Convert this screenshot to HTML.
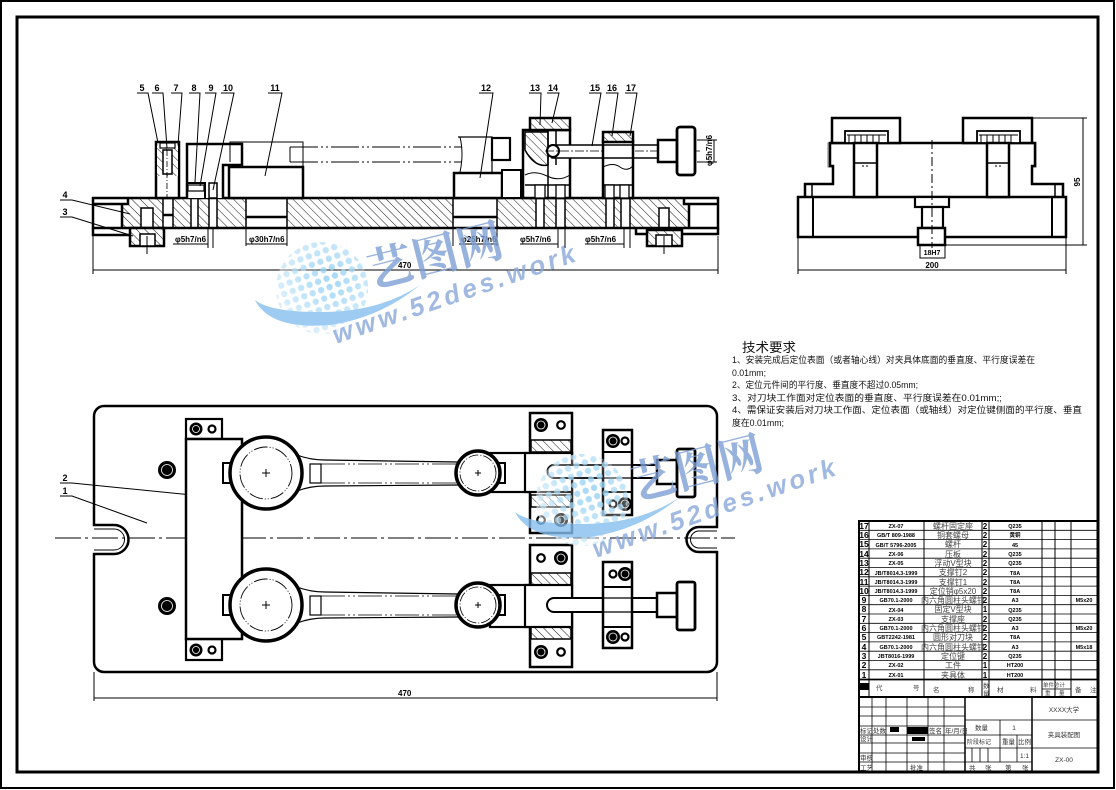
<!DOCTYPE html>
<html><head><meta charset="utf-8"><style>
html,body{margin:0;padding:0;background:#fff;}
svg{display:block;}
text{font-family:"Liberation Sans","Noto Sans CJK SC",sans-serif;}
.cn{font-family:"Liberation Serif","Noto Serif CJK SC",serif;}
</style></head><body>
<svg width="1116" height="790" viewBox="0 0 1116 790" xmlns="http://www.w3.org/2000/svg">
<defs>
<pattern id="h" patternUnits="userSpaceOnUse" width="6" height="6" patternTransform="rotate(-45)">
<rect width="6" height="6" fill="#fff"/><line x1="0" y1="0" x2="0" y2="6" stroke="#000" stroke-width="0.9"/>
</pattern>
<pattern id="dots" patternUnits="userSpaceOnUse" width="9" height="9" patternTransform="rotate(-20)">
<circle cx="4.5" cy="4.5" r="3.2" fill="#8fcff4"/>
</pattern>
<radialGradient id="gl" cx="0.6" cy="0.4" r="0.6">
<stop offset="0" stop-color="#ffffff" stop-opacity="0"/><stop offset="1" stop-color="#ffffff" stop-opacity="0.6"/>
</radialGradient>
</defs>
<rect width="1116" height="790" fill="#fff"/>
<!-- frames -->
<rect x="1" y="1" width="1113" height="787" fill="none" stroke="#000" stroke-width="2"/>
<rect x="17" y="17" width="1081" height="755" fill="none" stroke="#000" stroke-width="3"/>

<!-- ================= FRONT VIEW ================= -->
<g stroke="#000" fill="none">
<rect x="93" y="198" width="625" height="30" fill="url(#h)" stroke="none"/>
<g fill="#fff" stroke="#000" stroke-width="1.5">
<rect x="93" y="198" width="35" height="6" stroke="none"/><rect x="93" y="204" width="29" height="24" stroke="none"/>
<rect x="163" y="198" width="10" height="30"/>
<rect x="191" y="198" width="7" height="30"/>
<rect x="209" y="198" width="8" height="30"/>
<rect x="246" y="198" width="41" height="30"/>
<rect x="453" y="198" width="44" height="30"/>
<rect x="536" y="198" width="8" height="30"/>
<rect x="556" y="198" width="9" height="30"/>
<rect x="606" y="198" width="8" height="30"/>
<rect x="621" y="198" width="9" height="30"/>
<rect x="141" y="208" width="12" height="20"/>
<rect x="659" y="208" width="10" height="20"/>
<rect x="684" y="198" width="34" height="6" stroke="none"/><rect x="689" y="204" width="29" height="24" stroke="none"/>
</g>
<g stroke-width="2.5">
<rect x="93" y="198" width="625" height="30"/>
<path d="M93,204 H128 V198 M122,204 V228"/>
<path d="M718,204 H684 V198 M689,204 V228"/>
<path d="M246,217 H287 M453,217 H497 M163,215 H173"/>
<path d="M93,228 V235 H130 M636,228 V234 H718 V228"/>
</g>
<!-- keys -->
<rect x="130" y="228" width="34" height="18" fill="url(#h)" stroke-width="2.5"/>
<rect x="140" y="234" width="15" height="12" fill="#fff" stroke-width="1.5"/>
<rect x="647" y="230" width="35" height="16" fill="url(#h)" stroke-width="2.5"/>
<rect x="656" y="235" width="16" height="11" fill="#fff" stroke-width="1.5"/>
<path d="M147,236 V254 M664,236 V254" stroke-width="1"/>
<!-- post 5-7 -->
<rect x="156" y="142" width="23" height="56" fill="#fff" stroke-width="2.5"/>
<rect x="157" y="146" width="21" height="30" fill="url(#h)" stroke="none"/>
<rect x="163" y="150" width="9" height="24" fill="#fff" stroke-width="1.5"/>
<rect x="160" y="143" width="15" height="5" fill="#fff" stroke-width="1.2"/>
<path d="M167,150 V198" stroke-width="0.8" stroke-dasharray="6 2 1 2"/>
<!-- item 8 -->
<path d="M187,198 V144 H242 V165 H223 V198" stroke-width="2.5" fill="#fff"/>
<path d="M187,183 H205 V198" stroke-width="2"/>
<rect x="188" y="185" width="16" height="6" fill="#fff" stroke-width="1.2"/>
<rect x="209" y="183" width="8" height="15" fill="#fff" stroke-width="1.5"/>
<!-- item 11 -->
<path d="M230,162 V142 H303 V167" stroke-width="1"/>
<rect x="229" y="167" width="74" height="31" fill="#fff" stroke-width="2.5"/>
<path d="M290,147 H462 M290,162 H462 M290,147 V162" stroke-width="1" stroke-dasharray="28 3 2 3 2 3"/>
<path d="M460,137 Q464,154 460,172" stroke-width="1"/>
<!-- item 12 -->
<path d="M458,137 H492 V173" stroke-width="1.2"/>
<rect x="492" y="138" width="18" height="22" stroke-width="2.2" fill="#fff"/>
<rect x="454" y="173" width="48" height="25" fill="#fff" stroke-width="2.5"/>
<rect x="502" y="170" width="19" height="28" fill="#fff" stroke-width="2"/>
<!-- item 13/14 -->
<rect x="523" y="130" width="47" height="68" fill="#fff" stroke-width="2.5"/>
<rect x="530" y="118" width="40" height="12" fill="url(#h)" stroke-width="2.5"/>
<path d="M525,132 H548 V165 Q535,168 525,150 Z" fill="url(#h)" stroke-width="1.5"/>
<path d="M548,130 V198 M556,130 V165" stroke-width="1.5"/>
<path d="M525,175 Q535,170 547,176 T570,175" stroke-width="1"/>
<path d="M525,185 H570" stroke-width="1.5"/>
<rect x="535" y="185" width="10" height="13" fill="#fff" stroke-width="1.3"/>
<rect x="556" y="185" width="9" height="13" fill="#fff" stroke-width="1.3"/>
<!-- rod 15 -->
<rect x="552" y="145" width="106" height="13" fill="#fff" stroke-width="1.5"/>
<circle cx="553" cy="151" r="6" fill="#fff" stroke-width="2"/>
<path d="M545,151 H700" stroke-width="0.8" stroke-dasharray="9 2 2 2"/>
<!-- block 16/17 -->
<rect x="603" y="141" width="30" height="57" fill="#fff" stroke-width="2.5"/>
<rect x="603" y="132" width="30" height="10" fill="url(#h)" stroke-width="2.5"/>
<path d="M603,145 H633 M603,158 H633" stroke-width="1.5"/>
<path d="M603,167 Q613,162 620,167 T633,166" stroke-width="1"/>
<path d="M603,185 H633" stroke-width="1.5"/>
<rect x="605" y="185" width="9" height="13" fill="#fff" stroke-width="1.3"/>
<rect x="620" y="185" width="9" height="13" fill="#fff" stroke-width="1.3"/>
<!-- knob -->
<rect x="658" y="140" width="19" height="22" fill="#fff" stroke-width="2.5"/>
<rect x="677" y="127" width="18" height="48" rx="3" fill="#fff" stroke-width="2.8"/>
<!-- dims front -->
<g stroke-width="1">
<path d="M93,236 V274 M718,236 V274 M93,270 H718"/>
<path d="M714,140 V162 M697,140 H717 M697,162 H717"/>
<path d="M173,244 H208 M208,228 V248 M213,228 V248 M246,228 V246 M287,228 V246 M246,244 H287 M453,228 V246 M497,228 V246 M459,244 H497 M520,244 H558 M558,228 V248 M565,228 V248 M585,244 H624 M624,228 V248 M630,228 V248"/>
</g>
</g>
<g font-size="8" font-weight="bold" fill="#000">
<text x="175" y="242">φ5h7/n6</text>
<text x="249" y="242">φ30h7/n6</text>
<text x="461" y="242">φ25h7/n6</text>
<text x="520" y="242">φ5h7/n6</text>
<text x="585" y="242">φ5h7/n6</text>
<text x="398" y="268">470</text>
<text transform="translate(712,166) rotate(-90)">φ5h7/n6</text>
</g>
<!-- leaders & labels front -->
<g stroke="#000" stroke-width="1" fill="none">
<path d="M137,93 H148 L158,143"/>
<path d="M152,93 H163 L167,148"/>
<path d="M171,93 H182 L178,145"/>
<path d="M189,93 H200 L195,182"/>
<path d="M205,93 H216 L200,186"/>
<path d="M221,93 H234 L213,190"/>
<path d="M268,93 H282 L265,176"/>
<path d="M479,93 H493 L480,178"/>
<path d="M529,93 H541 L540,125"/>
<path d="M547,93 H559 L552,123"/>
<path d="M589,93 H601 L592,146"/>
<path d="M606,93 H618 L612,136"/>
<path d="M625,93 H637 L630,136"/>
<path d="M60,200 H72 L130,214"/>
<path d="M60,217 H72 L133,236"/>
<path d="M60,483 H72 L242,500"/>
<path d="M60,496 H72 L147,523"/>
</g>
<g font-size="9" font-weight="bold" fill="#000" text-anchor="middle">
<text x="142" y="91">5</text><text x="157" y="91">6</text><text x="176" y="91">7</text>
<text x="194" y="91">8</text><text x="211" y="91">9</text><text x="228" y="91">10</text>
<text x="275" y="91">11</text><text x="486" y="91">12</text><text x="535" y="91">13</text>
<text x="553" y="91">14</text><text x="595" y="91">15</text><text x="612" y="91">16</text>
<text x="631" y="91">17</text>
<text x="65" y="198">4</text><text x="65" y="215">3</text>
<text x="65" y="481">2</text><text x="65" y="494">1</text>
</g>

<!-- ================= SIDE VIEW ================= -->
<g stroke="#000" fill="none">
<path d="M828,143 H902 V167 H828 Z M962,143 H1036 V167 H962 Z" stroke="#777" stroke-width="1"/>
<path d="M848,167 V172 H888 V167 M980,167 V172 H1020 V167" stroke="#777" stroke-width="1"/>
<path d="M805,197 V184 H833 V166 H830 V143 H1035 V166 H1032 V184 H1063 V197" stroke-width="2.5" fill="#fff"/>
<path d="M812,184 V197 M1055,184 V197" stroke-width="1.5"/>
<rect x="798" y="197" width="268" height="40" fill="#fff" stroke-width="2.5"/>
<path d="M813,197 V237 M1052,197 V237" stroke-width="2"/>
<rect x="832" y="118" width="68" height="25" fill="#fff" stroke-width="2.5"/>
<rect x="963" y="118" width="69" height="25" fill="#fff" stroke-width="2.5"/>
<rect x="845" y="131" width="43" height="12" fill="#fff" stroke-width="1.8"/>
<rect x="977" y="131" width="43" height="12" fill="#fff" stroke-width="1.8"/>
<path d="M847,135 H886 M849,135 V143 M855,135 V143 M861,135 V143 M867,135 V143 M873,135 V143 M879,135 V143 M979,135 H1018 M981,135 V143 M987,135 V143 M993,135 V143 M999,135 V143 M1005,135 V143 M1011,135 V143" stroke-width="1"/>
<rect x="854" y="143" width="23" height="54" fill="#fff" stroke-width="2.5"/>
<rect x="987" y="143" width="22" height="54" fill="#fff" stroke-width="2.5"/>
<path d="M854,163 H877 M987,163 H1009" stroke-width="1.5"/>
<rect x="915" y="197" width="34" height="10" fill="#fff" stroke-width="2.2"/>
<rect x="922" y="207" width="21" height="21" fill="#fff" stroke-width="2.2"/>
<rect x="918" y="228" width="27" height="17" fill="#fff" stroke-width="2.5"/>
<path d="M932,140 V248" stroke-width="1" stroke-dasharray="9 3 2 3"/>
<path d="M862,166 H870 M995,166 H1003" stroke-width="1" stroke-dasharray="2 2"/>
<g stroke-width="1">
<path d="M1032,118 H1087 M945,245 H1087 M1083,118 V245"/>
<rect x="920" y="245" width="25" height="13"/>
<path d="M798,237 V274 M1066,237 V274 M798,270 H1066"/>
</g>
</g>
<g font-size="8" font-weight="bold" fill="#000" text-anchor="middle">
<text x="932" y="255" font-size="7">18H7</text>
<text x="932" y="268">200</text>
<text transform="translate(1080,182) rotate(-90)">95</text>
</g>

<!-- ================= TOP VIEW ================= -->
<g stroke="#000" fill="none">
<path d="M104,406 H707 A10,10 0 0 1 717,416 V527 H699 A12.5,12.5 0 0 0 699,552 H717 V662 A10,10 0 0 1 707,672 H104 A10,10 0 0 1 94,662 V554 H114 A14.5,14.5 0 0 0 114,525 H94 V416 A10,10 0 0 1 104,406 Z" stroke-width="2.5"/>
<path d="M94,529 H114 A10.5,10.5 0 0 1 114,550 H94 M717,531 H699 A8.5,8.5 0 0 0 699,548 H717" stroke-width="1"/>
<path d="M55,538 H735" stroke-width="1" stroke-dasharray="26 4 3 4"/>
<!-- left support -->
<rect x="186" y="419" width="36" height="20" fill="#fff" stroke-width="2.2"/>
<rect x="186" y="639" width="36" height="21" fill="#fff" stroke-width="2.2"/>
<rect x="186" y="439" width="56" height="200" fill="#fff" stroke-width="2.5"/>
<!-- rods -->
<g stroke-width="1.2">
<path d="M297,455 Q310,460 325,460 L458,462 M297,491 Q310,486 325,486 L458,485"/>
<path d="M297,587 Q310,592 325,592 L458,594 M297,623 Q310,618 325,618 L458,617"/>
<rect x="310" y="464" width="11" height="19"/>
<rect x="310" y="596" width="11" height="19"/>
</g>
<path d="M321,464 H458 M321,483 H458 M321,596 H458 M321,615 H458" stroke-width="0.8" stroke-dasharray="24 3 2 3 2 3"/>
<!-- big circles -->
<rect x="223" y="463" width="9" height="20" fill="#fff" stroke-width="2"/>
<rect x="223" y="595" width="9" height="20" fill="#fff" stroke-width="2"/>
<circle cx="266" cy="473" r="36" fill="#fff" stroke-width="3.5"/>
<circle cx="266" cy="605" r="36" fill="#fff" stroke-width="3.5"/>
<circle cx="266" cy="473" r="26" stroke-width="0.9" stroke-dasharray="14 2 1 2 1 2"/>
<circle cx="266" cy="605" r="26" stroke-width="0.9" stroke-dasharray="14 2 1 2 1 2"/>
<path d="M262,473 H270 M266,469 V477 M262,605 H270 M266,601 V609" stroke-width="1"/>
<!-- connector blocks to clamps -->
<rect x="490" y="453" width="40" height="39" fill="#fff" stroke-width="2.2"/>
<rect x="490" y="585" width="40" height="42" fill="#fff" stroke-width="2.2"/>
<rect x="498" y="463" width="7" height="20" fill="#fff" stroke-width="2"/>
<rect x="498" y="595" width="7" height="20" fill="#fff" stroke-width="2"/>
<circle cx="478" cy="473" r="22" fill="#fff" stroke-width="3.5"/>
<circle cx="478" cy="605" r="22" fill="#fff" stroke-width="3.5"/>
<circle cx="478" cy="473" r="18" stroke-width="0.8" stroke-dasharray="10 2 1 2"/>
<circle cx="478" cy="605" r="18" stroke-width="0.8" stroke-dasharray="10 2 1 2"/>
<path d="M475,473 H481 M478,470 V476 M475,605 H481 M478,602 V608" stroke-width="1"/>
<!-- clamps 13 (top) -->
<rect x="530" y="413" width="42" height="120" fill="#fff" stroke-width="2.5"/>
<rect x="531" y="440" width="40" height="12" fill="url(#h)" stroke-width="1.5"/>
<rect x="531" y="495" width="40" height="12" fill="url(#h)" stroke-width="1.5"/>
<rect x="525" y="453" width="47" height="39" fill="#fff" stroke-width="2.2"/>
<!-- clamps 13 (bottom) -->
<rect x="530" y="545" width="42" height="122" fill="#fff" stroke-width="2.5"/>
<rect x="531" y="573" width="40" height="12" fill="url(#h)" stroke-width="1.5"/>
<rect x="531" y="627" width="40" height="12" fill="url(#h)" stroke-width="1.5"/>
<rect x="525" y="585" width="47" height="42" fill="#fff" stroke-width="2.2"/>
<!-- rods 15 -->
<path d="M554,465 H658 V478 H554 A6.5,6.5 0 0 1 554,465 Z" fill="#fff" stroke-width="2"/>
<path d="M554,598 H658 V612 H554 A7,7 0 0 1 554,598 Z" fill="#fff" stroke-width="2"/>
<!-- blocks 17 -->
<rect x="603" y="430" width="29" height="85" fill="#fff" stroke-width="2.5"/>
<path d="M603,452 H632 M603,492 H632" stroke-width="2"/>
<rect x="603" y="562" width="29" height="86" fill="#fff" stroke-width="2.5"/>
<path d="M603,587 H632 M603,627 H632" stroke-width="2"/>
<path d="M603,465 H632 M603,478 H632 M603,598 H632 M603,612 H632" stroke-width="1.2"/>
<!-- knobs -->
<rect x="657" y="460" width="20" height="24" fill="#fff" stroke-width="2.5"/>
<rect x="677" y="449" width="18" height="48" rx="2" fill="#fff" stroke-width="2.8"/>
<rect x="657" y="593" width="20" height="24" fill="#fff" stroke-width="2.5"/>
<rect x="677" y="582" width="18" height="48" rx="2" fill="#fff" stroke-width="2.8"/>
<!-- dims -->
<path d="M94,672 V701 M717,672 V701 M94,698 H717" stroke-width="1"/>
</g>
<!-- bolt heads -->
<g>
<g fill="#000"><circle cx="167" cy="470" r="9"/><circle cx="167" cy="606" r="9"/>
<circle cx="196" cy="429" r="6.5"/><circle cx="196" cy="650" r="6.5"/>
<circle cx="541" cy="425" r="7"/><circle cx="561" cy="520" r="7"/>
<circle cx="561" cy="558" r="7"/><circle cx="541" cy="652" r="7"/>
<circle cx="613" cy="441" r="7"/><circle cx="625" cy="504" r="7"/>
<circle cx="625" cy="574" r="7"/><circle cx="613" cy="637" r="7"/></g>
<g fill="none" stroke="#fff" stroke-width="0.8"><circle cx="167" cy="470" r="5.5"/><circle cx="167" cy="606" r="5.5"/>
<circle cx="196" cy="429" r="3.5"/><circle cx="196" cy="650" r="3.5"/>
<circle cx="541" cy="425" r="4"/><circle cx="561" cy="520" r="4"/>
<circle cx="561" cy="558" r="4"/><circle cx="541" cy="652" r="4"/>
<circle cx="613" cy="441" r="4"/><circle cx="625" cy="504" r="4"/>
<circle cx="625" cy="574" r="4"/><circle cx="613" cy="637" r="4"/></g>
<g fill="#fff" stroke="#000" stroke-width="2.2"><circle cx="212" cy="429" r="3.5"/><circle cx="212" cy="650" r="3.5"/>
<circle cx="561" cy="425" r="3.8"/><circle cx="541" cy="520" r="3.8"/>
<circle cx="541" cy="558" r="3.8"/><circle cx="561" cy="652" r="3.8"/>
<circle cx="625" cy="441" r="3.5"/><circle cx="613" cy="504" r="3.5"/>
<circle cx="613" cy="574" r="3.5"/><circle cx="625" cy="637" r="3.5"/></g>
</g>
<text x="398" y="696" font-size="8" font-weight="bold" fill="#000">470</text>

<!-- ================= TECH REQUIREMENTS ================= -->
<g class="cn" fill="#111">
<text x="742" y="352" font-size="13" textLength="54" lengthAdjust="spacingAndGlyphs">技术要求</text>
<g font-size="9">
<text x="732" y="363" textLength="303" lengthAdjust="spacingAndGlyphs">1、安装完成后定位表面（或者轴心线）对夹具体底面的垂直度、平行度误差在</text>
<text x="732" y="376" textLength="34" lengthAdjust="spacingAndGlyphs">0.01mm;</text>
<text x="732" y="388" textLength="186" lengthAdjust="spacingAndGlyphs">2、定位元件间的平行度、垂直度不超过0.05mm;</text>
<text x="732" y="401" textLength="270" lengthAdjust="spacingAndGlyphs">3、对刀块工作面对定位表面的垂直度、平行度误差在0.01mm;;</text>
<text x="732" y="413" textLength="350" lengthAdjust="spacingAndGlyphs">4、需保证安装后对刀块工作面、定位表面（或轴线）对定位键侧面的平行度、垂直</text>
<text x="732" y="426" textLength="52" lengthAdjust="spacingAndGlyphs">度在0.01mm;</text>
</g>
</g>

<!-- ================= PARTS LIST ================= -->
<g stroke="#000" fill="none">
<rect x="859" y="521" width="239" height="176" stroke-width="2"/>
<path d="M869,521 V697 M924,521 V697 M982,521 V697 M989,521 V697 M1042,521 V697 M1055,521 V697 M1071,521 V697" stroke-width="1"/>
<path d="M859,530.3 H1098 M859,539.6 H1098 M859,548.9 H1098 M859,558.2 H1098 M859,567.5 H1098 M859,576.8 H1098 M859,586.1 H1098 M859,595.4 H1098 M859,604.7 H1098 M859,614 H1098 M859,623.3 H1098 M859,632.6 H1098 M859,641.9 H1098 M859,651.2 H1098 M859,660.5 H1098 M859,669.8 H1098" stroke-width="0.8"/>
<path d="M859,679.5 H1098" stroke-width="1.8"/>
<path d="M1042,689 H1071 M1055,680 V697" stroke-width="0.8"/>
<rect x="860" y="683" width="9" height="7" fill="#000" stroke="none"/>
</g>
<g font-size="7" fill="#000">
<g font-weight="bold" font-size="8.5" text-anchor="middle">
<text x="864" y="529">17</text><text x="864" y="538">16</text><text x="864" y="547">15</text><text x="864" y="557">14</text>
<text x="864" y="566">13</text><text x="864" y="575">12</text><text x="864" y="585">11</text><text x="864" y="594">10</text>
<text x="864" y="603">9</text><text x="864" y="612">8</text><text x="864" y="622">7</text><text x="864" y="631">6</text>
<text x="864" y="640">5</text><text x="864" y="650">4</text><text x="864" y="659">3</text><text x="864" y="668">2</text>
<text x="864" y="678">1</text>
</g>
<g font-weight="bold" font-size="5.5" text-anchor="middle">
<text x="896" y="528">ZX-07</text><text x="896" y="537">GB/T 809-1988</text><text x="896" y="547">GB/T 5796-2005</text>
<text x="896" y="556">ZX-06</text><text x="896" y="565">ZX-05</text><text x="896" y="575">JB/T8014.3-1999</text>
<text x="896" y="584">JB/T8014.3-1999</text><text x="896" y="593">JB/T8014.3-1999</text><text x="896" y="602">GB70.1-2000</text>
<text x="896" y="612">ZX-04</text><text x="896" y="621">ZX-03</text><text x="896" y="630">GB70.1-2000</text>
<text x="896" y="639">GBT2242-1981</text><text x="896" y="649">GB70.1-2000</text><text x="896" y="658">JBT8016-1999</text>
<text x="896" y="667">ZX-02</text><text x="896" y="677">ZX-01</text>
<text x="1015" y="528">Q235</text><text x="1015" y="537">黄铜</text><text x="1015" y="547">45</text>
<text x="1015" y="556">Q235</text><text x="1015" y="565">Q235</text><text x="1015" y="575">T8A</text>
<text x="1015" y="584">T8A</text><text x="1015" y="593">T8A</text><text x="1015" y="602">A3</text>
<text x="1015" y="612">Q235</text><text x="1015" y="621">Q235</text><text x="1015" y="630">A3</text>
<text x="1015" y="639">T8A</text><text x="1015" y="649">A3</text><text x="1015" y="658">Q235</text>
<text x="1015" y="667">HT200</text><text x="1015" y="677">HT200</text>
<text x="1084" y="602">M5x20</text><text x="1084" y="630">M5x20</text><text x="1084" y="649">M5x18</text>
</g>
<g font-weight="bold" font-size="8" text-anchor="middle">
<text x="985" y="529">2</text><text x="985" y="538">2</text><text x="985" y="547">2</text><text x="985" y="557">2</text>
<text x="985" y="566">2</text><text x="985" y="575">2</text><text x="985" y="585">2</text><text x="985" y="594">2</text>
<text x="985" y="603">2</text><text x="985" y="612">1</text><text x="985" y="622">2</text><text x="985" y="631">2</text>
<text x="985" y="640">2</text><text x="985" y="650">2</text><text x="985" y="659">2</text><text x="985" y="668">1</text>
<text x="985" y="678">1</text>
</g>
<g class="cn" font-size="8" fill="#444" text-anchor="middle">
<text x="953" y="529">螺杆固定座</text><text x="953" y="538">铜套螺母</text><text x="953" y="547">螺杆</text>
<text x="953" y="557">压板</text><text x="953" y="566">浮动V型块</text><text x="953" y="575">支撑钉2</text>
<text x="953" y="585">支撑钉1</text><text x="953" y="594">定位销φ5x20</text><text x="953" y="603">内六角圆柱头螺钉</text>
<text x="953" y="612">固定V型块</text><text x="953" y="622">支撑座</text><text x="953" y="631">内六角圆柱头螺钉</text>
<text x="953" y="640">圆形对刀块</text><text x="953" y="650">内六角圆柱头螺钉</text><text x="953" y="659">定位键</text>
<text x="953" y="668">工件</text><text x="953" y="678">夹具体</text>
</g>
<g class="cn" font-size="6.5" fill="#444">
<text x="876" y="690">代</text><text x="913" y="690">号</text>
<text x="933" y="692">名</text><text x="968" y="692">称</text>
<text x="983" y="688">数</text><text x="983" y="696">量</text>
<text x="997" y="692">材</text><text x="1030" y="692">料</text>
<text x="1043" y="687" font-size="5.5">单件总计</text>
<text x="1045" y="695" font-size="5.5">重</text><text x="1059" y="695" font-size="5.5">量</text>
<text x="1075" y="692">备</text><text x="1090" y="692">注</text>
</g>
</g>

<!-- ================= TITLE BLOCK ================= -->
<g stroke="#000" fill="none">
<rect x="859" y="697" width="239" height="75" stroke-width="2"/>
<path d="M965,697 V772 M1032,697 V772" stroke-width="1.5"/>
<path d="M872,697 V772 M886,697 V772 M907,697 V772 M928,697 V772 M944,697 V772" stroke-width="0.8"/>
<path d="M859,707 H965 M859,716 H965 M859,726 H965 M859,735 H965 M859,743 H965 M859,753 H965 M859,762 H965" stroke-width="0.8"/>
<path d="M965,720 H1098 M1032,748 H1098 M965,735 H1032 M965,748 H1032 M965,762 H1032" stroke-width="0.8"/>
<path d="M1000,720 V762 M1017,735 V762 M972,748 V762 M980,748 V762 M988,748 V762" stroke-width="0.8"/>
<rect x="890" y="727" width="9" height="5" fill="#000" stroke="none"/>
<rect x="907" y="727" width="21" height="7" fill="#000" stroke="none"/>
<rect x="912" y="737" width="13" height="4" fill="#000" stroke="none"/>
</g>
<g class="cn" font-size="6.5" fill="#333">
<text x="860" y="733">标记</text><text x="873" y="733">处数</text><text x="929" y="733">签名</text><text x="945" y="733">年/月/日</text>
<text x="860" y="741">设计</text>
<text x="860" y="760">审核</text><text x="860" y="770">工艺</text><text x="910" y="770">批准</text>
<text x="975" y="730">数量</text><text x="1014" y="730" text-anchor="middle">1</text>
<text x="967" y="744" font-size="6">阶段标记</text><text x="1002" y="744">重量</text><text x="1018" y="744">比例</text>
<text x="1020" y="758">1:1</text>
<text x="969" y="770">共</text><text x="985" y="770">张</text><text x="1005" y="770">第</text><text x="1022" y="770">张</text>
<text x="1064" y="712" text-anchor="middle">XXXX大学</text>
<text x="1064" y="737" text-anchor="middle">夹具装配图</text>
<text x="1064" y="762" text-anchor="middle">ZX-00</text>
</g>

<!-- ================= WATERMARKS ================= -->
<g opacity="0.8">
<circle cx="322" cy="288" r="46" fill="url(#dots)"/>
<circle cx="322" cy="288" r="46" fill="url(#gl)"/>
<path d="M255,300 Q270,330 330,325 Q380,318 420,285 Q380,312 320,312 Q270,312 255,300 Z" fill="#86bfee"/>
<g transform="translate(372,288) rotate(-14)"><text font-size="46" font-weight="bold" fill="#7f9fd6" class="cn" textLength="138" lengthAdjust="spacingAndGlyphs">艺图网</text></g>
<g transform="translate(336,344) rotate(-19)"><text font-size="26" font-weight="bold" font-style="italic" fill="#8aa8da" textLength="255" lengthAdjust="spacing">www.52des.work</text></g>
</g>
<g opacity="0.8">
<circle cx="582" cy="500" r="46" fill="url(#dots)"/>
<circle cx="582" cy="500" r="46" fill="url(#gl)"/>
<path d="M515,512 Q530,542 590,537 Q640,530 680,497 Q640,524 580,524 Q530,524 515,512 Z" fill="#86bfee"/>
<g transform="translate(636,500) rotate(-14)"><text font-size="46" font-weight="bold" fill="#7f9fd6" class="cn" textLength="134" lengthAdjust="spacingAndGlyphs">艺图网</text></g>
<g transform="translate(596,558) rotate(-19)"><text font-size="26" font-weight="bold" font-style="italic" fill="#8aa8da" textLength="255" lengthAdjust="spacing">www.52des.work</text></g>
</g>
</svg>
</body></html>
